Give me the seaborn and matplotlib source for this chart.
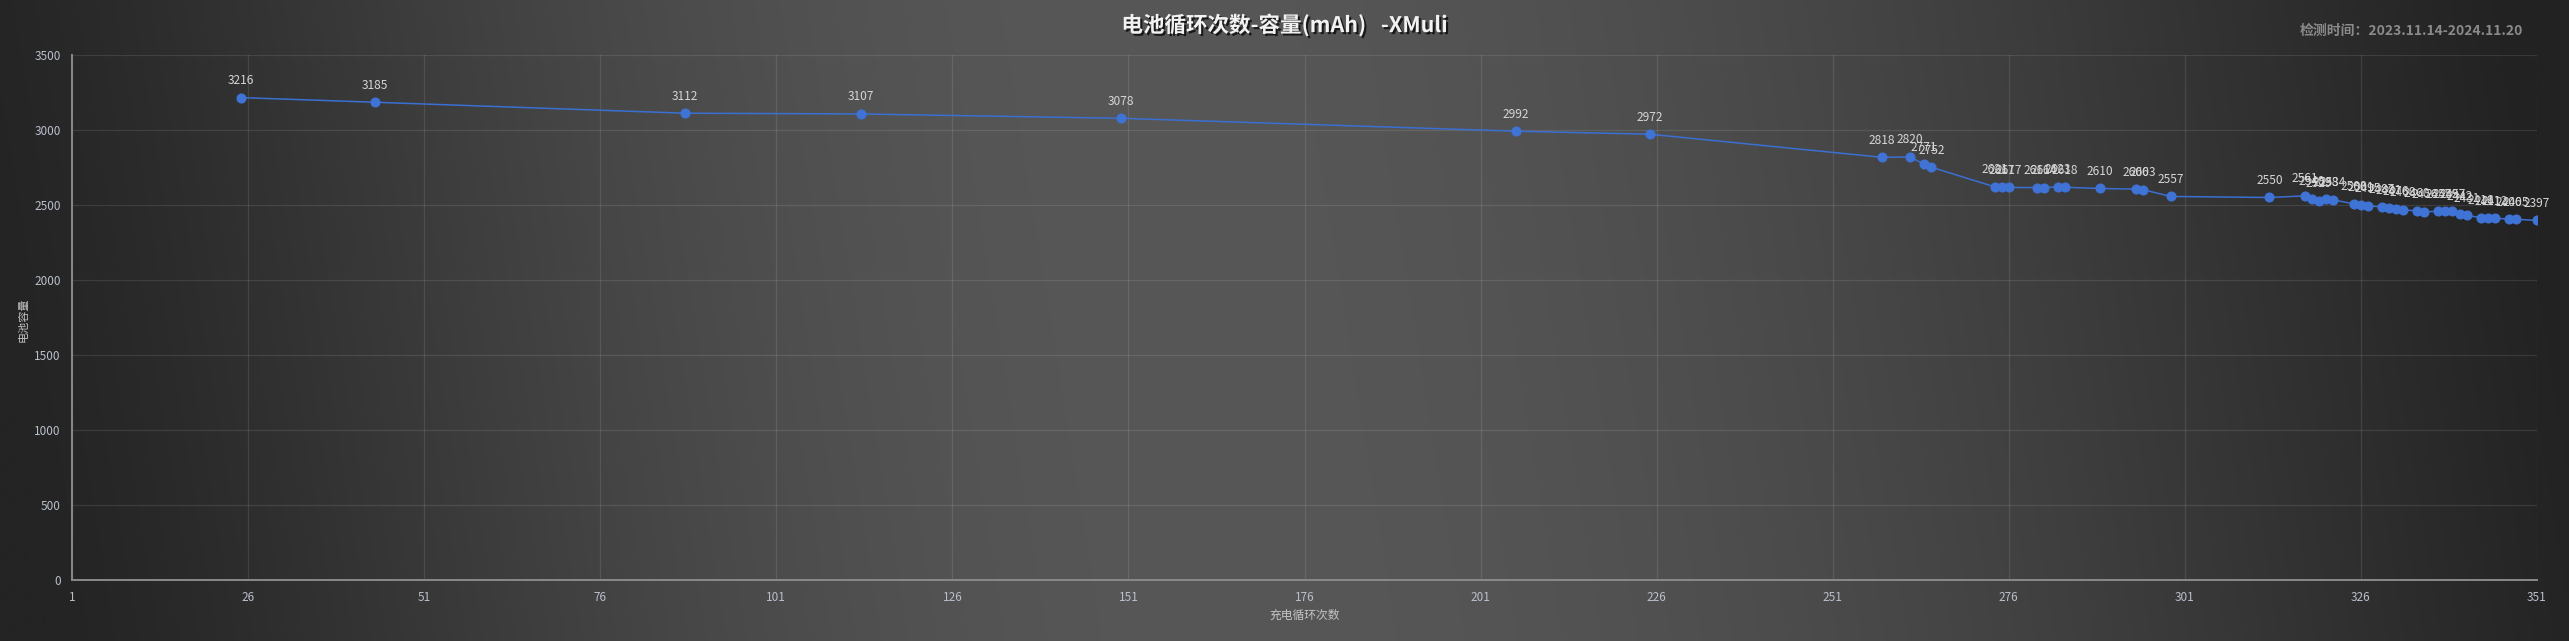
import numpy as np
import pandas as pd
import matplotlib
matplotlib.use("Agg")
import matplotlib.pyplot as plt
import matplotlib.patheffects as pe
import seaborn as sns

# ---- data ----
cycles = [25, 44, 88, 113, 150, 206, 225, 258, 262, 264, 265, 274, 275, 276,
          280, 281, 283, 284, 289, 294, 295, 299, 313, 318, 319, 320, 321, 322,
          325, 326, 327, 329, 330, 331, 332, 334, 335, 337, 338, 339, 340, 341,
          343, 344, 345, 347, 348, 351]
capacity = [3216, 3185, 3112, 3107, 3078, 2992, 2972, 2818, 2820, 2771, 2752, 2621, 2617, 2617,
            2616, 2614, 2623, 2618, 2610, 2606, 2603, 2557, 2550, 2561, 2540, 2529, 2538, 2534,
            2508, 2501, 2495, 2487, 2481, 2476, 2468, 2460, 2456, 2457, 2459, 2457, 2442, 2431,
            2416, 2411, 2412, 2406, 2405, 2397]
x_ticks = list(range(1, 352, 25))
y_ticks = list(range(0, 3501, 500))
title = "电池循环次数-容量(mAh)   -XMuli"
subtitle = "检测时间：2023.11.14-2024.11.20"
x_label = "充电循环次数"
y_label = "电池容量"

df = pd.DataFrame({"cycle": cycles, "capacity": capacity})

sns.set_theme(style="dark")
plt.rcParams['font.family'] = ['Noto Sans CJK SC', 'DejaVu Sans']
plt.rcParams['axes.unicode_minus'] = False

W, H = 2569, 641
fig = plt.figure(figsize=(W / 100, H / 100), dpi=100)
fig.patch.set_facecolor("#2a2a2a")

# background gradient
bg = fig.add_axes([0, 0, 1, 1], zorder=-10)
bg.set_axis_off()
xs = np.linspace(0, 1, 600)
ys = np.linspace(0, 1, 150)
X, Y = np.meshgrid(xs, ys)
U = X + 0.04 * (Y - 0.5)
peak = 0.46
lo_l, hi, lo_r = 0x24, 0x57, 0x22
V = np.where(U < peak,
             lo_l + (hi - lo_l) * np.sin(np.clip(U / peak, 0, 1) * np.pi / 2) ** 1.3,
             lo_r + (hi - lo_r) * np.cos(np.clip((U - peak) / (1 - peak), 0, 1) * np.pi / 2) ** 1.1)
V = V / 255.0
img = np.dstack([V, V, V])
bg.imshow(img, aspect="auto", extent=[0, 1, 0, 1], origin="lower", interpolation="bilinear")
bg.set_xlim(0, 1)
bg.set_ylim(0, 1)

ax = fig.add_axes([72 / W, 1 - 580 / H, (2537 - 72) / W, (580 - 55) / H])
ax.set_facecolor("none")

sns.lineplot(data=df, x="cycle", y="capacity", ax=ax, color="#3b6fd2",
             linewidth=1.1, marker="o", markersize=6.5,
             markerfacecolor="#3f74d6", markeredgecolor="#3f74d6", zorder=3)

for cx, cy in zip(cycles, capacity):
    ax.annotate(str(cy), (cx, cy), xytext=(0, 17), textcoords="offset pixels",
                ha="center", va="center", fontsize=8.6, color="#d6d6d6", zorder=4)

ax.set_xlim(1, 351)
ax.set_ylim(0, 3500)
ax.set_xticks(x_ticks)
ax.set_yticks(y_ticks)
ax.set_xticklabels([str(t) for t in x_ticks])
ax.set_yticklabels([str(t) for t in y_ticks])
ax.tick_params(axis="both", length=0, labelsize=8.5, labelcolor="#b9c0cc")
ax.tick_params(axis="x", pad=8)
ax.tick_params(axis="y", pad=8)
ax.grid(True, color="#ffffff", alpha=0.10, linewidth=0.9)
for s in ["top", "right"]:
    ax.spines[s].set_visible(False)
for s in ["left", "bottom"]:
    ax.spines[s].set_visible(True)
    ax.spines[s].set_color("#8a8a8a")
    ax.spines[s].set_linewidth(1.4)

ax.set_xlabel(x_label, fontsize=8.5, color="#c4c4c4")
ax.xaxis.set_label_coords(0.5, -0.055)
ax.set_ylabel("")
fig.text(24 / W, 1 - 320 / H, y_label, rotation=90, ha="center", va="center",
         fontsize=8, color="#c4c4c4")

fig.text(0.5, 1 - 25 / H, title, ha="center", va="center", fontsize=15.5,
         fontweight="bold", color="#f2f2f2",
         path_effects=[pe.withSimplePatchShadow(offset=(1.5, -1.5), shadow_rgbFace="black", alpha=0.7)])
fig.text(2523 / W, 1 - 31 / H, subtitle, ha="right", va="center", fontsize=10,
         fontweight="bold", color="#8a8a8a")

fig.savefig("out.png", dpi=100, facecolor=fig.get_facecolor())
